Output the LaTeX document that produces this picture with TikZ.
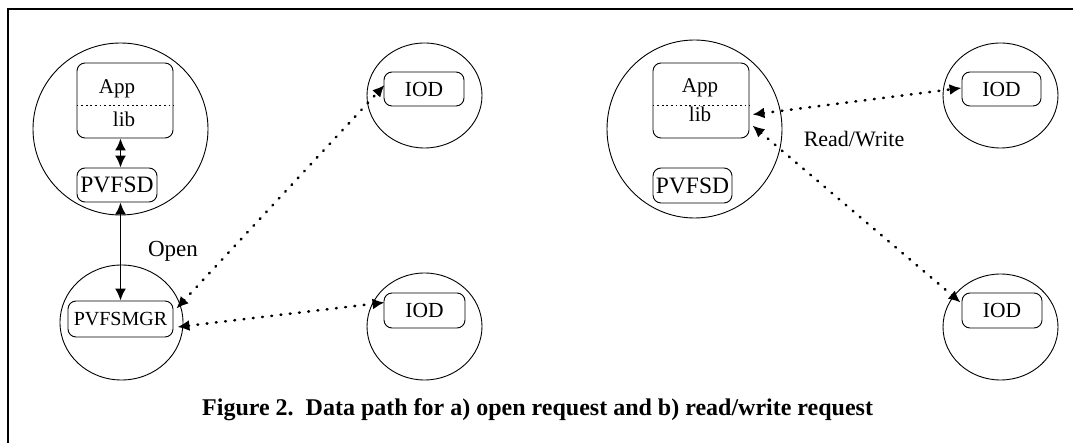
\documentclass[tikz,border=0pt]{standalone}
\usepackage{fontspec}
\setmainfont{Liberation Serif}
\usetikzlibrary{arrows.meta,shapes.geometric}
\begin{document}
\begin{tikzpicture}[x=1pt,y=-1pt,
  host/.style={draw, ellipse, line width=0.9pt, inner sep=0pt},
  box/.style={draw, line width=0.9pt, rounded corners=8pt, inner sep=0pt},
  fs/.style={font=\fontsize{#1}{#1}\selectfont},
  lbl/.style={inner sep=0pt},
  solidarrow/.style={line width=1.8pt, {Latex[length=12pt,width=11pt]}-{Latex[length=12pt,width=11pt]}},
  dotarrow/.style={line width=2.6pt, line cap=round, dash pattern=on 0.8pt off 8.5pt, {Latex[length=12pt,width=11pt]}-{Latex[length=12pt,width=11pt]}},
  divider/.style={line width=1pt, dash pattern=on 1.8pt off 2.8pt}
]
\useasboundingbox (0,0) rectangle (1073,443);
\fill[white] (0,0) rectangle (1073,443);
% frame
\draw[line width=1.3pt] (8,443) -- (8,9) -- (1073,9);

% ---- a) open request ----
\node[host, minimum width=175pt, minimum height=172pt] (hostL) at (120.5,129) {};
\node[host, minimum width=123pt, minimum height=115pt] (hostM) at (121.5,322.5) {};
\node[host, minimum width=115pt, minimum height=105pt] (hostI1) at (424.5,95.5) {};
\node[host, minimum width=115pt, minimum height=107pt] (hostI2) at (424.5,326.5) {};

\node[box, minimum width=96pt, minimum height=75pt] (appL) at (125,100.5) {};
\draw[divider] (appL.west |- 0,106) -- (appL.east |- 0,106);
\node[lbl, fs=21, anchor=base] (appLt) at (117,94) {App};
\node[lbl, fs=21, anchor=base] (libLt) at (124,127) {lib};
\node[box, fs=23.5, minimum width=80pt, minimum height=34pt] (pvfsdL) at (117,185) {PVFSD};
\node[box, fs=20, minimum width=105pt, minimum height=36pt] (mgr) at (120.5,319) {PVFSMGR};
\node[box, fs=21.5, minimum width=80pt, minimum height=34pt] (iodL1) at (424,89) {IOD};
\node[box, fs=21.5, minimum width=81pt, minimum height=35pt] (iodL2) at (424.5,310.5) {IOD};

\draw[solidarrow] (appL.south -| mgr.north) -- (pvfsdL.north -| mgr.north);
\draw[solidarrow] (pvfsdL.south -| mgr.north) -- (mgr.north);
\draw[dotarrow] ([shift={(3,8)}]mgr.north east) -- ([shift={(1,-4)}]iodL1.west);
\draw[dotarrow] ([shift={(4,8)}]mgr.east) -- ([shift={(1,-8)}]iodL2.west);
\node[lbl, fs=23, anchor=base] (open) at (173,257) {Open};

% ---- b) read/write request ----
\node[host, minimum width=175pt, minimum height=178pt] (hostR) at (694.5,129) {};
\node[host, minimum width=115pt, minimum height=105pt] (hostR1) at (1000.5,95.5) {};
\node[host, minimum width=115pt, minimum height=106pt] (hostR2) at (1000.5,327) {};

\node[box, minimum width=96pt, minimum height=75pt] (appR) at (701,100.5) {};
\draw[divider] (appR.west |- 0,106) -- (appR.east |- 0,106);
\node[lbl, fs=21, anchor=base] (appRt) at (700,93) {App};
\node[lbl, fs=21, anchor=base] (libRt) at (700,122) {lib};
\node[box, fs=23.5, minimum width=79pt, minimum height=35pt] (pvfsdR) at (692.5,185.5) {PVFSD};
\node[box, fs=21.5, minimum width=79pt, minimum height=34pt] (iodR1) at (1001.5,89) {IOD};
\node[box, fs=21.5, minimum width=80pt, minimum height=35pt] (iodR2) at (1002,310.5) {IOD};

\draw[dotarrow] ([shift={(3,14)}]appR.east) -- ([shift={(0,-1)}]iodR1.west);
\draw[dotarrow] ([shift={(3,25)}]appR.east) -- ([shift={(-1,-8)}]iodR2.west);
\node[lbl, fs=22, anchor=base] (rw) at (854,147) {Read/Write};

% caption
\node[lbl, font=\bfseries\fontsize{24}{26}\selectfont, anchor=base west] (cap) at (202,415)
  {Figure 2.\ \ Data path for a) open request and b) read/write request};
\end{tikzpicture}
\end{document}
